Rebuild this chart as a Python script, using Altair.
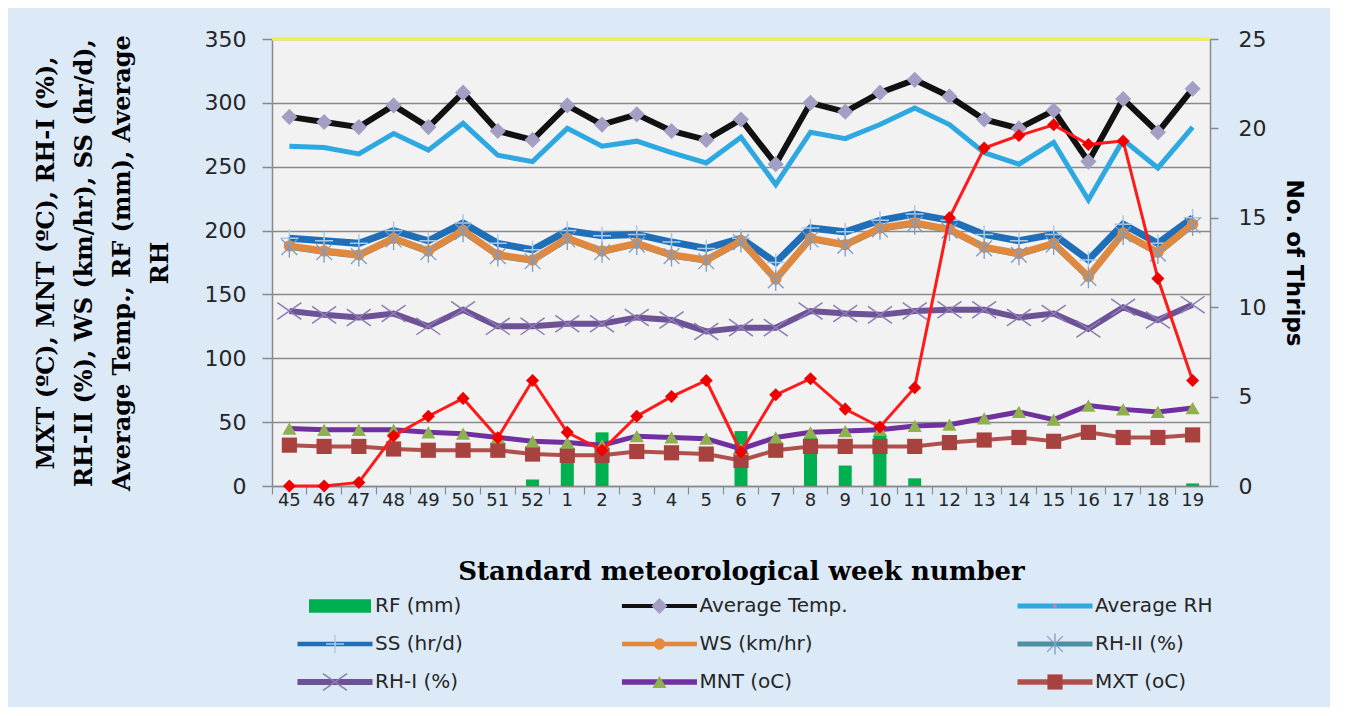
import altair as alt
import pandas as pd

# ---------------- data ----------------
weeks = ["45", "46", "47", "48", "49", "50", "51", "52", "1", "2", "3", "4", "5", "6",
         "7", "8", "9", "10", "11", "12", "13", "14", "15", "16", "17", "18", "19"]

avg_temp = [289, 285, 281, 298, 281, 308, 278, 271, 298, 283, 291, 278, 271, 287,
            252, 300, 293, 308, 318, 305, 287, 280, 294, 254, 303, 277, 311]
avg_rh = [266, 265, 260, 276, 263, 284, 259, 254, 280, 266, 270, 261, 253, 273,
          236, 277, 272, 283, 296, 283, 261, 252, 269, 224, 271, 249, 281]
ss = [194, 192, 190, 200, 192, 206, 190, 185, 200, 196, 197, 191, 186, 194,
      175, 202, 199, 208, 213, 208, 197, 192, 197, 177, 205, 190, 210]
ws = [188, 184, 181, 194, 184, 200, 181, 177, 194, 184, 190, 181, 177, 192,
      162, 194, 189, 202, 206, 201, 187, 182, 190, 164, 198, 183, 205]
rh2 = [187, 183, 180, 193, 183, 199, 180, 176, 193, 183, 189, 180, 176, 191,
       161, 193, 188, 201, 205, 200, 186, 181, 189, 163, 197, 182, 204]
rh1 = [137, 134, 132, 135, 125, 138, 125, 125, 127, 127, 132, 130, 121, 124,
       124, 137, 135, 134, 137, 138, 138, 132, 135, 123, 140, 130, 142]
mnt = [45, 44, 44, 44, 42, 41, 38, 35, 34, 32, 39, 38, 37, 29,
       38, 42, 43, 44, 47, 48, 53, 58, 52, 63, 60, 58, 61]
mxt = [32, 31, 31, 29, 28, 28, 28, 25, 24, 24, 27, 26, 25, 20,
       28, 31, 31, 31, 31, 34, 36, 38, 35, 42, 38, 38, 40]
rf = [0, 0, 0, 0, 0, 0, 0, 5, 28, 42, 0, 0, 0, 43,
      0, 38, 16, 40, 6, 0, 0, 0, 0, 0, 0, 0, 2]
thrips = [0, 0, 0.2, 2.8, 3.9, 4.9, 2.7, 5.9, 3.0, 2.0, 3.9, 5.0, 5.9, 1.9,
          5.1, 6.0, 4.3, 3.3, 5.5, 15.0, 18.9, 19.6, 20.2, 19.1, 19.3, 11.6, 5.9]

left_ticks = [0, 50, 100, 150, 200, 250, 300, 350]
right_ticks = [0, 5, 10, 15, 20, 25]
top_line = [350]

left_title = ["MXT (\u00baC), MNT (\u00baC), RH-I (%),",
              "RH-II (%), WS (km/hr), SS (hr/d),",
              "Average Temp., RF (mm), Average",
              "RH"]
x_title = "Standard  meteorological week number"
right_title = "No. of Thrips"

leg_labels = ["RF (mm)", "Average Temp.", "Average RH",
              "SS (hr/d)", "WS (km/hr)", "RH-II (%)",
              "RH-I (%)", "MNT (oC)", "MXT (oC)"]
leg_col = [0, 1, 2, 0, 1, 2, 0, 1, 2]
leg_row = [0, 0, 0, 1, 1, 1, 2, 2, 2]

# ---------------- styles ----------------
GRID = "#8A8A8A"
SANS = "DejaVu Sans"
SERIF = "DejaVu Serif"
TXT = "#262626"
PLOT_W = 938
PLOT_H = 447

ASTER = "M-0.75,-0.75L0.75,0.75M-0.75,0.75L0.75,-0.75M0,-1L0,1"
XMARK = "M-1,-0.7L1,0.7M-1,0.7L1,-0.7"
PLUS = "M0,-1L0,1M-1,0L1,0"

# field, legend label, line colour, line width, marker style
series = [
    ("rh1", "RH-I (%)", "#6E5296", 6, dict(shape=XMARK, size=576, filled=False, color="#8C7CB4", strokeWidth=1.5)),
    ("mxt", "MXT (oC)", "#B0504C", 4, dict(shape="square", size=230, filled=True, color="#A8423F")),
    ("mnt", "MNT (oC)", "#7030A0", 5, dict(shape="triangle-up", size=200, filled=True, color="#8FB04E")),
    ("avg_rh", "Average RH", "#2EA8E0", 5, None),
    ("rh2", "RH-II (%)", "#4E8FA0", 5, None),
    ("ss", "SS (hr/d)", "#1F6FB8", 7, dict(shape=PLUS, size=324, filled=False, color="#A8CBEA", strokeWidth=1.5)),
    ("ws", "WS (km/hr)", "#E0893E", 7, dict(shape="circle", size=130, filled=True, color="#E58A3C")),
    ("avg_temp", "Average Temp.", "#111111", 6, dict(shape="diamond", size=260, filled=True, color="#A39EC4")),
]
rh2_marker = dict(shape=ASTER, size=441, filled=False, color="#7C9CC4", strokeWidth=1.3)
avg_rh_marker = dict(shape="square", size=10, filled=True, color="#E377B0")

df = pd.DataFrame({
    "week": weeks, "idx": list(range(len(weeks))),
    "avg_temp": avg_temp, "avg_rh": avg_rh, "ss": ss, "ws": ws, "rh2": rh2,
    "rh1": rh1, "mnt": mnt, "mxt": mxt, "rf": rf, "thrips": thrips,
})

x_enc = alt.X(
    "week:N",
    scale=alt.Scale(domain=weeks, paddingInner=0, paddingOuter=0),
    axis=alt.Axis(
        title=x_title, titleFont=SERIF, titleFontSize=26, titleFontWeight="bold",
        titleColor="black", titlePadding=49,
        labelAngle=0, labelFont=SANS, labelFontSize=18, labelColor=TXT,
        labelPadding=-3, labelOverlap=False, bandPosition=0,
        tickSize=8, tickColor=GRID, tickWidth=1.2, domainColor=GRID, domainWidth=1.5,
        grid=False,
    ),
)

left_axis = alt.Axis(
    values=left_ticks, title=left_title, titleFont=SERIF, titleFontSize=24,
    titleFontWeight="bold", titleColor="black", titleLineHeight=38, titlePadding=32,
    labelFont=SANS, labelFontSize=22, labelColor=TXT, labelPadding=16,
    tickSize=10, tickColor=GRID, tickWidth=1.5, domainColor=GRID, domainWidth=1.5,
    grid=True, gridColor=GRID, gridWidth=1.5,
)


def y_left(field):
    return alt.Y(f"{field}:Q", scale=alt.Scale(domain=[0, 350]), axis=left_axis)


base = alt.Chart(df)


def marker_kw(m):
    kw = dict(shape=m["shape"], size=m["size"], filled=m["filled"], opacity=1)
    if m["filled"]:
        kw["fill"] = m["color"]
        kw["strokeWidth"] = 0
    else:
        kw["stroke"] = m["color"]
        kw["strokeWidth"] = m.get("strokeWidth", 1.5)
    return kw


def marker_layer(field, m, scale_y):
    return base.mark_point(**marker_kw(m)).encode(x=x_enc, y=scale_y(field))


bars = base.mark_bar(size=13, color="#00B050").encode(x=x_enc, y=y_left("rf"))
top_rule = alt.Chart(pd.DataFrame({"v": top_line})).mark_rule(
    color="#F4F04A", strokeWidth=3).encode(y=y_left("v"))

left_layers = [bars]
for field, label, col, w, m in series:
    left_layers.append(
        base.mark_line(color=col, strokeWidth=w).encode(x=x_enc, y=y_left(field), order="idx:Q"))
    if m is not None:
        left_layers.append(marker_layer(field, m, y_left))
    if field == "ws":
        left_layers.append(marker_layer("rh2", rh2_marker, y_left))
left_layers.append(top_rule)
left = alt.layer(*left_layers)

right_axis = alt.Axis(
    orient="right", values=right_ticks, title=right_title, titleFont=SANS,
    titleFontSize=23, titleFontWeight="bold", titleColor="black", titlePadding=16,
    labelFont=SANS, labelFontSize=22, labelColor=TXT, labelPadding=20,
    tickSize=8, tickColor=GRID, tickWidth=1.5, domainColor=GRID, domainWidth=1.5,
    grid=False,
)
y_right = alt.Y("thrips:Q", scale=alt.Scale(domain=[0, 25]), axis=right_axis)
thr_line = base.mark_line(color="#FF1A1A", strokeWidth=3).encode(x=x_enc, y=y_right, order="idx:Q")
thr_pts = base.mark_point(shape="diamond", size=170, filled=True, fill="#EE0000",
                          strokeWidth=0, opacity=1).encode(x=x_enc, y=y_right)
right = alt.layer(thr_line, thr_pts)

main = alt.layer(left, right).resolve_scale(y="independent").properties(
    width=PLOT_W, height=PLOT_H)

# ---------------- legend panel ----------------
leg_df = pd.DataFrame({"label": leg_labels, "col": leg_col, "row": leg_row})
leg = alt.Chart(leg_df)
lx = alt.X("col:Q", scale=alt.Scale(type="pow", exponent=1.15, domain=[0, 2], range=[103, 823]), axis=None)
ly = alt.Y("row:Q", scale=alt.Scale(domain=[0, 2], range=[14, 90]), axis=None)

line_labels = [s[1] for s in series]
line_cols = [s[2] for s in series]
line_ws = [s[3] for s in series]

leg_layers = []
leg_layers.append(
    leg.transform_filter(alt.datum.label == "RF (mm)").mark_point(
        shape="M-1,-0.22L1,-0.22L1,0.22L-1,0.22Z", size=3844, filled=True,
        fill="#00B050", strokeWidth=0, opacity=1, xOffset=-35).encode(x=lx, y=ly))
leg_layers.append(
    leg.transform_filter(alt.datum.label != "RF (mm)").mark_point(
        shape="M-1,0L1,0", size=5625, filled=False, opacity=1, xOffset=-40).encode(
        x=lx, y=ly,
        stroke=alt.Stroke("label:N", scale=alt.Scale(domain=line_labels, range=line_cols), legend=None),
        strokeWidth=alt.StrokeWidth("label:N", scale=alt.Scale(domain=line_labels, range=line_ws), legend=None),
    ))

leg_markers = [(s[1], s[4]) for s in series if s[4] is not None]
leg_markers.append(("RH-II (%)", rh2_marker))
leg_markers.append(("Average RH", avg_rh_marker))
for label, m in leg_markers:
    kw = marker_kw(m)
    kw["xOffset"] = -40
    leg_layers.append(leg.transform_filter(alt.datum.label == label).mark_point(**kw).encode(x=lx, y=ly))

leg_layers.append(leg.mark_text(align="left", baseline="middle", font=SANS, fontSize=20,
                                color=TXT).encode(x=lx, y=ly, text="label:N"))

legend = alt.layer(*leg_layers).properties(
    width=850, height=100,
    view=alt.ViewBackground(fill="transparent", stroke="transparent"))

chart = alt.vconcat(main, legend, spacing=6).properties(
    padding={"left": 25, "top": 19, "right": 24, "bottom": 12},
    background="#DCE9F6",
).configure_view(fill="#F2F2F2", stroke="transparent")

chart.save("out.html", embed_options={"renderer": "svg", "actions": False})
